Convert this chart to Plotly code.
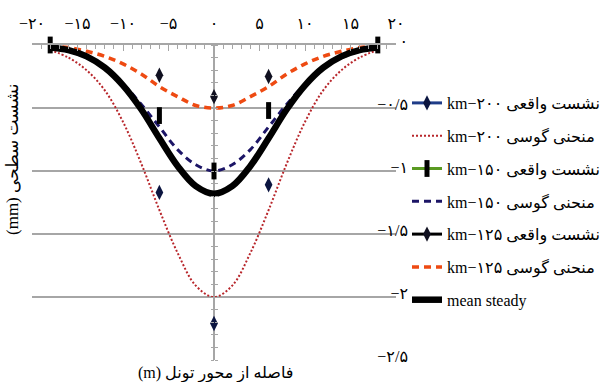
import plotly.graph_objects as go

# ---------------- data ----------------
x_curve = [-18, -16, -14, -12, -10, -8, -6, -4, -2, 0, 2, 4, 6, 8, 10, 12, 14, 16, 18]
gauss_200 = [-0.04, -0.10, -0.20, -0.36, -0.61, -0.94, -1.31, -1.65, -1.91, -2.00,
             -1.91, -1.65, -1.31, -0.94, -0.61, -0.36, -0.20, -0.10, -0.04]
gauss_150 = [-0.02, -0.05, -0.10, -0.18, -0.31, -0.47, -0.65, -0.83, -0.95, -1.00,
             -0.95, -0.83, -0.65, -0.47, -0.31, -0.18, -0.10, -0.05, -0.02]
gauss_125 = [-0.01, -0.02, -0.05, -0.09, -0.15, -0.23, -0.33, -0.41, -0.48, -0.50,
             -0.48, -0.41, -0.33, -0.23, -0.15, -0.09, -0.05, -0.02, -0.01]
mean_steady = [-0.02, -0.04, -0.09, -0.18, -0.32, -0.51, -0.74, -0.96, -1.12, -1.18,
               -1.12, -0.96, -0.74, -0.51, -0.32, -0.18, -0.09, -0.04, -0.02]

x_act_200 = [-6, 0, 6]
y_act_200 = [-1.17, -2.21, -1.11]
x_act_150 = [-18, -6, 0, 6, 18]
y_act_150 = [0.0, -0.56, -1.00, -0.52, 0.0]
x_act_125 = [-6, 0, 6]
y_act_125 = [-0.24, -0.41, -0.25]

names = ["km−۲۰۰ نشست واقعی", "km−۲۰۰ منحنی گوسی",
         "km−۱۵۰ نشست واقعی", "km−۱۵۰ منحنی گوسی",
         "km−۱۲۵ نشست واقعی", "km−۱۲۵ منحنی گوسی",
         "mean steady"]

x_tickvals = [-20, -15, -10, -5, 0, 5, 10, 15, 20]
x_ticktext = ["−۲۰", "−۱۵", "−۱۰", "−۵", "۰", "۵", "۱۰", "۱۵", "۲۰"]
y_tickvals = [0, -0.5, -1, -1.5, -2, -2.5]
y_ticktext = ["۰", "−۰/۵", "−۱", "−۱/۵", "−۲", "−۲/۵"]

x_title = "(m) فاصله از محور تونل"
y_title = "(mm) نشست سطحی"


def gapped(v):
    """isolated points (no connecting segments) so the legend still shows a line"""
    out = []
    for i, a in enumerate(v):
        if i:
            out.append(None)
        out.append(a)
    return out


FONT = "Liberation Serif, DejaVu Sans, serif"
GRID = "#a6a6a6"

fig = go.Figure()

fig.add_trace(go.Scatter(
    x=gapped(x_act_200), y=gapped(y_act_200), name=names[0], mode="lines+markers",
    line=dict(color="#1f3c88", width=3), connectgaps=False, cliponaxis=False,
    marker=dict(symbol="diamond-tall", size=11, color="#0b1540"),
    yaxis="y2", legendgroup="a"))
fig.add_trace(go.Scatter(
    x=x_curve, y=gauss_200, name=names[1], mode="lines", line_shape="spline",
    line=dict(color="#b8262b", width=2, dash="2px,2px"), legendgroup="b"))
fig.add_trace(go.Scatter(
    x=gapped(x_act_150), y=gapped(y_act_150), name=names[2], mode="lines+markers",
    line=dict(color="#5a9a22", width=3), connectgaps=False, cliponaxis=False,
    marker=dict(symbol="line-ns", size=12, color="black",
                line=dict(color="black", width=5)),
    yaxis="y3", legendgroup="c"))
fig.add_trace(go.Scatter(
    x=x_curve, y=gauss_150, name=names[3], mode="lines", line_shape="spline",
    line=dict(color="#1c1566", width=3, dash="7px,5px"), legendgroup="d"))
fig.add_trace(go.Scatter(
    x=gapped(x_act_125), y=gapped(y_act_125), name=names[4], mode="lines+markers",
    line=dict(color="black", width=3), connectgaps=False, cliponaxis=False,
    marker=dict(symbol="diamond-tall", size=11, color="#101020"),
    yaxis="y3", legendgroup="e"))
fig.add_trace(go.Scatter(
    x=x_curve, y=gauss_125, name=names[5], mode="lines", line_shape="spline",
    line=dict(color="#ee4a12", width=3.5, dash="7px,5px"), legendgroup="f"))
fig.add_trace(go.Scatter(
    x=x_curve, y=mean_steady, name=names[6], mode="lines", line_shape="spline",
    line=dict(color="black", width=6.5), legendgroup="g"))

L, R, T, B = 32, 180, 45, 22
W, H = 600, 382
plot_w = W - L - R
plot_h = H - T - B
xdom_end = (396 - L) / plot_w
x0_pos = (214 - L) / plot_w

fig.update_layout(
    width=W, height=H,
    margin=dict(l=L, r=R, t=T, b=B, autoexpand=False),
    paper_bgcolor="white", plot_bgcolor="white",
    font=dict(family=FONT, size=15, color="black"),
    xaxis=dict(domain=[0, xdom_end], range=[-20, 20], side="top", anchor="y",
               automargin=False,
               tickmode="array", tickvals=x_tickvals, ticktext=x_ticktext,
               ticks="inside", ticklen=6, tickcolor=GRID, tickwidth=1.2,
               minor=dict(tickmode="linear", tick0=0, dtick=1, ticks="inside",
                          ticklen=4, tickcolor=GRID, showgrid=False),
               showline=True, linecolor=GRID, linewidth=1.5,
               showgrid=False, zeroline=True, zerolinecolor=GRID,
               zerolinewidth=1.5, ticklabelstandoff=8,
               tickfont=dict(family=FONT, size=16)),
    yaxis=dict(range=[-2.5, 0], anchor="free", position=(408 - L) / plot_w,
               side="left", automargin=False, layer="below traces",
               tickmode="array", tickvals=y_tickvals, ticktext=y_ticktext,
               ticks="", showline=False, showgrid=True, gridcolor=GRID,
               gridwidth=1.5, zeroline=False, ticklabelshift=-4,
               tickfont=dict(family=FONT, size=16)),
    yaxis2=dict(range=[-2.5, 0], overlaying="y", anchor="free", position=x0_pos,
                side="left", showticklabels=False, showgrid=False, zeroline=False,
                automargin=False, showline=False,
                ticks="outside", ticklen=3, tickcolor=GRID, tickmode="linear",
                tick0=0, dtick=0.1),
    yaxis3=dict(range=[-2.5, 0], overlaying="y", anchor="free", position=x0_pos,
                side="right", showticklabels=False, showgrid=False, zeroline=False,
                automargin=False, showline=False,
                ticks="outside", ticklen=3, tickcolor=GRID,
                tickmode="linear", tick0=0, dtick=0.1),
    legend=dict(x=(407 - L) / plot_w, xanchor="left", y=(H - B - 86) / plot_h,
                yanchor="top", traceorder="grouped", tracegroupgap=9,
                bgcolor="rgba(0,0,0,0)", font=dict(family=FONT, size=16),
                itemwidth=30, borderwidth=0),
    showlegend=True,
)

fig.add_annotation(text=x_title, xref="paper", yref="paper",
                   x=(215 - L) / plot_w, y=-(373 - (H - B)) / plot_h,
                   showarrow=False, font=dict(family=FONT, size=16),
                   xanchor="center", yanchor="middle")
fig.add_annotation(text=y_title, xref="paper", yref="paper",
                   x=-(L - 12) / plot_w, y=(H - B - 160) / plot_h,
                   showarrow=False, textangle=-90, font=dict(family=FONT, size=17),
                   xanchor="center", yanchor="middle")

fig.write_html(
    "out.html",
    config={"displayModeBar": False},
    post_script="document.body.style.margin='0';document.body.style.padding='0';"
                "document.body.style.overflow='hidden';",
)
